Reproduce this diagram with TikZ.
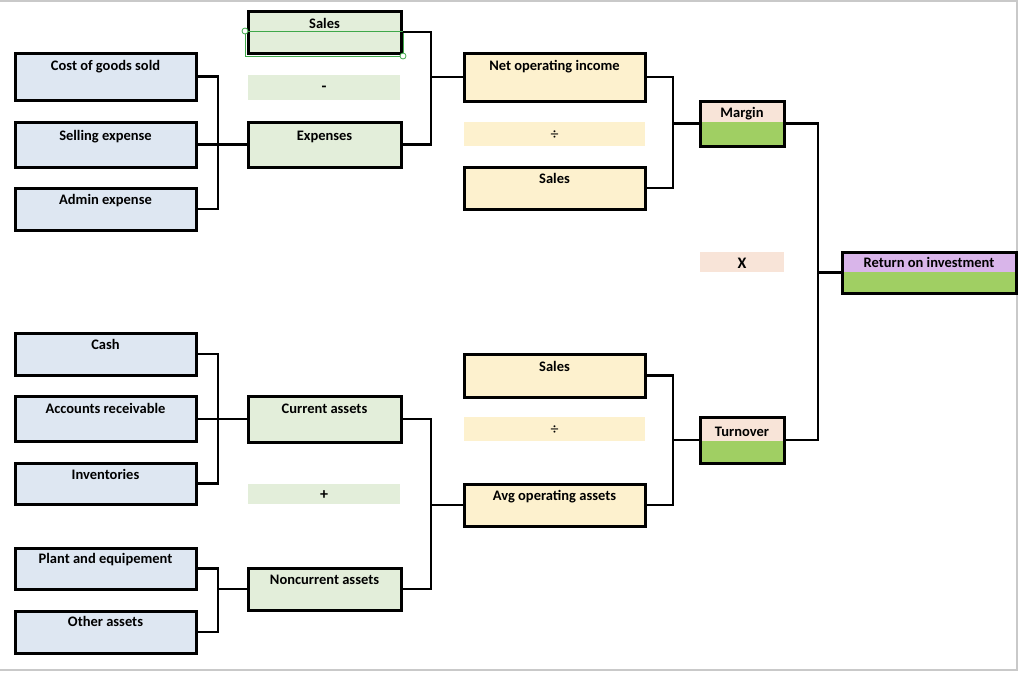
\documentclass[tikz,border=0pt]{standalone}
\usepackage{fontspec}
\setmainfont{Carlito}
\definecolor{bluef}{HTML}{DEE7F2}
\definecolor{greenf}{HTML}{E3EEDA}
\definecolor{yellowf}{HTML}{FDF1CE}
\definecolor{pinkf}{HTML}{F8E4D8}
\definecolor{strongg}{HTML}{A0CF63}
\definecolor{purplef}{HTML}{D9B5EA}
\definecolor{selg}{HTML}{3FA84A}
\definecolor{frameg}{HTML}{C9C9C9}
\tikzset{
  box/.style={draw=black, line width=3pt, rectangle, inner sep=0pt},
  bluebox/.style={box, fill=bluef, minimum width=181pt},
  greenbox/.style={box, fill=greenf, minimum width=153pt},
  yellowbox/.style={box, fill=yellowf, minimum width=181pt},
  band/.style={rectangle, inner sep=0pt, draw=none},
  lbl/.style={anchor=base, inner sep=0pt, font=\fontsize{14.5}{17}\selectfont\bfseries},
  sym/.style={anchor=center, inner sep=0pt, font=\fontsize{16}{18}\selectfont},
  conn/.style={line width=2.8pt},
}
\begin{document}
\begin{tikzpicture}[x=1pt, y=-1pt]
\useasboundingbox (0,0) rectangle (1024,673);
% frame
\draw[frameg, line width=2pt] (0,1) -- (1017,1) -- (1017,670) -- (0,670);

% ---------- connectors (behind boxes) ----------
\coordinate (b1) at (218,0);
\coordinate (b2) at (431,0);
\coordinate (b3) at (673,0);
\coordinate (b4) at (818,0);

% ---------- blue column ----------
\node[bluebox, minimum height=47pt] (cogs) at (105.5,76.5) {};
\node[bluebox, minimum height=45pt] (sell) at (105.5,144.5) {};
\node[bluebox, minimum height=42pt] (admin) at (105.5,209) {};
\node[bluebox, minimum height=42pt] (cash) at (105.5,354) {};
\node[bluebox, minimum height=45pt] (ar) at (105.5,419) {};
\node[bluebox, minimum height=41pt] (inv) at (105.5,483.5) {};
\node[bluebox, minimum height=41pt] (plant) at (105.5,568.5) {};
\node[bluebox, minimum height=42pt] (other) at (105.5,632) {};
\node[lbl] (cogs-t) at (105.5,70.5) {Cost of goods sold};
\node[lbl] (sell-t) at (105.5,140) {Selling expense};
\node[lbl] (admin-t) at (105.5,204) {Admin expense};
\node[lbl] (cash-t) at (105.5,349) {Cash};
\node[lbl] (ar-t) at (105.5,413) {Accounts receivable};
\node[lbl] (inv-t) at (105.5,479) {Inventories};
\node[lbl] (plant-t) at (105.5,563) {Plant and equipement};
\node[lbl] (other-t) at (105.5,626) {Other assets};

% ---------- green column ----------
\node[greenbox, minimum height=42pt] (sales1) at (324.5,32) {};
\node[band, fill=greenf, minimum width=152pt, minimum height=25pt] (minus) at (324,87.5) {};
\node[greenbox, minimum height=45pt] (exp) at (324.5,144.5) {};
\node[greenbox, minimum height=46pt] (cur) at (324.5,419) {};
\node[band, fill=greenf, minimum width=152pt, minimum height=20pt] (plus) at (324,494) {};
\node[greenbox, minimum height=42pt] (noncur) at (324.5,589) {};
\node[lbl] (sales1-t) at (324.5,28) {Sales};
\node[sym] (minus-t) at (324,89) {\bfseries -};
\node[lbl] (exp-t) at (324.5,140) {Expenses};
\node[lbl] (cur-t) at (324.5,413) {Current assets};
\node[sym] (plus-t) at (324,495) {\bfseries +};
\node[lbl] (noncur-t) at (324.5,584) {Noncurrent assets};

% selection rectangle
\draw[selg, line width=0.9pt] (245,31) rectangle (403,56);
\node[circle, draw=selg, fill=white, line width=0.8pt, minimum size=6pt, inner sep=0pt] (h1) at (245,31) {};
\node[circle, draw=selg, fill=white, line width=0.8pt, minimum size=6pt, inner sep=0pt] (h2) at (403,56) {};

% ---------- yellow column ----------
\node[yellowbox, minimum height=48pt] (noi) at (554.5,77) {};
\node[band, fill=yellowf, minimum width=181pt, minimum height=24pt] (div1) at (554.5,134) {};
\node[yellowbox, minimum height=42pt] (sales2) at (554.5,188) {};
\node[yellowbox, minimum height=43pt] (sales3) at (554.5,375.5) {};
\node[band, fill=yellowf, minimum width=181pt, minimum height=24pt] (div2) at (554.5,429) {};
\node[yellowbox, minimum height=42pt] (avg) at (554.5,505) {};
\node[lbl] (noi-t) at (554.5,70.5) {Net operating income};
\node[sym] (div1-t) at (554.5,135) {÷};
\node[lbl] (sales2-t) at (554.5,183.5) {Sales};
\node[lbl] (sales3-t) at (554.5,371) {Sales};
\node[sym] (div2-t) at (554.5,430) {÷};
\node[lbl] (avg-t) at (554.5,500) {Avg operating assets};

% ---------- margin / turnover ----------
\fill[pinkf] (700,101) rectangle (784,122);
\fill[strongg] (700,122) rectangle (784,146);
\node[box, minimum width=84pt, minimum height=45pt] (margin) at (742,123.5) {};
\node[lbl] (margin-t) at (742,117) {Margin};

\node[band, fill=pinkf, minimum width=84pt, minimum height=20pt] (times) at (742,262) {};
\node[sym] (times-t) at (742,263) {\bfseries X};

\fill[pinkf] (700,417) rectangle (784,441);
\fill[strongg] (700,441) rectangle (784,463);
\node[box, minimum width=84pt, minimum height=46pt] (turn) at (742,440) {};
\node[lbl] (turn-t) at (742,436.5) {Turnover};

% ---------- ROI ----------
\fill[purplef] (842,252) rectangle (1016,272);
\fill[strongg] (842,272) rectangle (1016,293);
\node[box, minimum width=174pt, minimum height=41pt] (roi) at (929,272.5) {};
\node[lbl] (roi-t) at (929,267.5) {Return on investment};

% ---------- connectors ----------
\draw[conn] (cogs.east) -| (b1 |- admin.east) -- (admin.east);
\draw[conn] (sell.east) -- (exp.west);

\draw[conn] (cash.east) -| (b1 |- inv.east) -- (inv.east);
\draw[conn] (ar.east) -- (cur.west);

\draw[conn] (plant.east) -| (b1 |- other.east) -- (other.east);
\draw[conn] (b1 |- noncur.west) -- (noncur.west);

\draw[conn] (sales1.east) -| (b2 |- exp.east) -- (exp.east);
\draw[conn] (b2 |- noi.west) -- (noi.west);

\draw[conn] (cur.east) -| (b2 |- noncur.east) -- (noncur.east);
\draw[conn] (b2 |- avg.west) -- (avg.west);

\draw[conn] (noi.east) -| (b3 |- sales2.east) -- (sales2.east);
\draw[conn] (b3 |- margin.west) -- (margin.west);

\draw[conn] (sales3.east) -| (b3 |- avg.east) -- (avg.east);
\draw[conn] (b3 |- turn.west) -- (turn.west);

\draw[conn] (margin.east) -| (b4 |- turn.east) -- (turn.east);
\draw[conn] (b4 |- roi.west) -- (roi.west);
\end{tikzpicture}
\end{document}
